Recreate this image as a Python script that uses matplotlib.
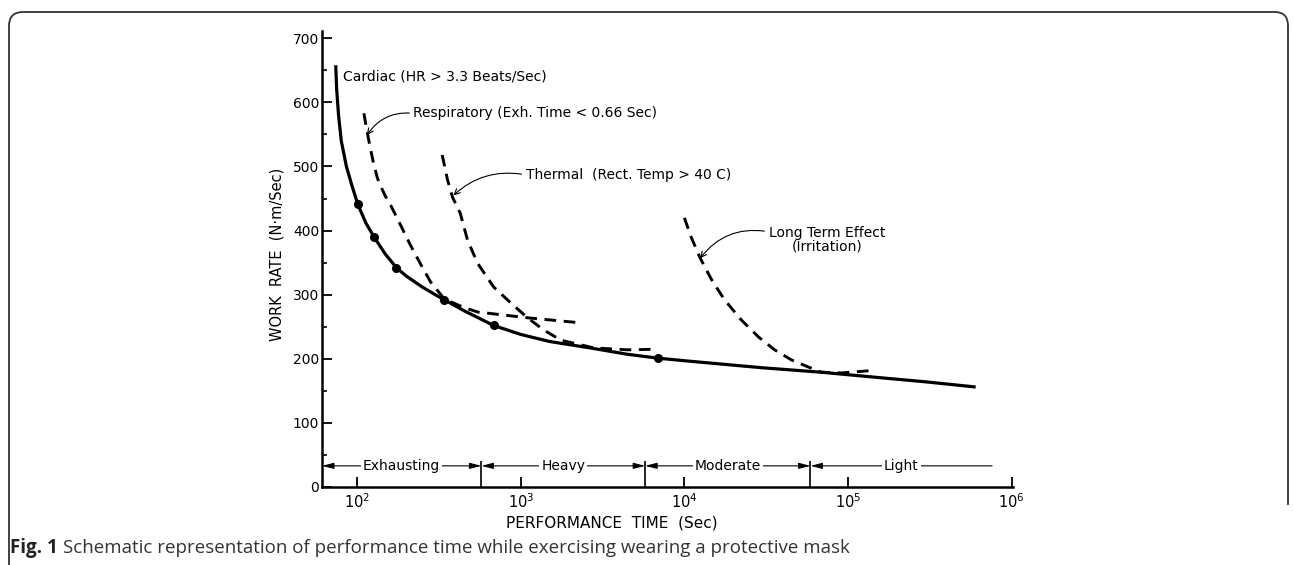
import matplotlib
matplotlib.use("Agg")
import matplotlib.pyplot as plt
from matplotlib.path import Path
from matplotlib.patches import PathPatch
from matplotlib.ticker import FixedLocator, MultipleLocator, NullLocator

# values (performance time in s, work rate in N·m/s)
cardiac_t = [74, 75, 77, 80, 86, 93, 101, 113, 127, 148, 174, 200, 250, 300, 342, 450,
             683, 1000, 1500, 2800, 4500, 6900, 10000, 30000, 69000, 150000, 300000, 603000]
cardiac_w = [658, 620, 580, 540, 500, 470, 441, 412, 390, 364, 342, 329, 312, 300, 292, 275,
             252, 238, 227, 216, 207, 201, 197, 186, 179, 171, 164, 156]
dot_t = [101, 127, 174, 342, 683, 6900]
dot_w = [441, 390, 342, 292, 252, 201]

resp_t = [110, 114, 119, 126, 133, 140, 150, 160, 184, 211, 244, 281, 342, 450, 545, 1100, 2340]
resp_w = [583, 560, 535, 505, 482, 468, 452, 440, 409, 378, 348, 320, 293, 280, 273, 264, 256]

therm_t = [331, 357, 383, 427, 473, 545, 683, 870, 1100, 1380, 1760, 2800, 4530, 6900]
therm_w = [518, 479, 452, 427, 385, 349, 312, 287, 264, 245, 229, 217, 214, 215]

long_t = [10000, 11000, 12500, 14700, 17600, 22400, 28400, 35600, 45300, 57500, 69000,
          91800, 145000]
long_w = [420, 390, 357, 323, 292, 260, 234, 214, 198, 187, 179, 178, 182]

zone_names = ["Exhausting", "Heavy", "Moderate", "Light"]
zone_edges = [61, 575, 5760, 59000, 760000]
zone_level = 33

x_ticks = [1e2, 1e3, 1e4, 1e5, 1e6]
x_tick_labels = ["$10^{2}$", "$10^{3}$", "$10^{4}$", "$10^{5}$", "$10^{6}$"]
y_ticks = [0, 100, 200, 300, 400, 500, 600, 700]

W, H = 1293, 565
fig = plt.figure(figsize=(W / 100, H / 100), dpi=100)
ax = fig.add_axes([322 / W, 1 - 487 / H, (1013 - 322) / W, (487 - 30.6) / H])

ax.plot(cardiac_t, cardiac_w, color="black", lw=2.3, solid_capstyle="butt")
ax.plot(dot_t, dot_w, "o", color="black", ms=5.5)
dash = (0, (4, 2.6))
for t, w in [(resp_t, resp_w), (therm_t, therm_w), (long_t, long_w)]:
    ax.plot(t, w, color="black", lw=2.1, linestyle=dash)

ax.set_xscale("log")
ax.set_xlim(61, 1.02e6)
ax.set_ylim(0, 712)

ax.xaxis.set_major_locator(FixedLocator(x_ticks))
ax.xaxis.set_minor_locator(NullLocator())
ax.set_xticklabels(x_tick_labels, fontsize=10.5)
ax.set_yticks(y_ticks)
ax.set_yticklabels([str(v) for v in y_ticks], fontsize=10)
ax.yaxis.set_minor_locator(MultipleLocator(50))
ax.tick_params(axis="both", which="major", direction="in", length=7, width=1.3, pad=2)
ax.tick_params(axis="y", which="minor", direction="in", length=3.5, width=1.2)
ax.tick_params(axis="x", pad=4)

for side in ["top", "right"]:
    ax.spines[side].set_visible(False)
for side in ["left", "bottom"]:
    ax.spines[side].set_linewidth(1.8)

ax.set_xlabel("PERFORMANCE  TIME  (Sec)", fontsize=11)
ax.xaxis.set_label_coords((612 - 322) / 691, -0.062)
ax.set_ylabel("WORK  RATE  (N·m/Sec)", fontsize=10.5)
ax.yaxis.set_label_coords(-0.054, 0.51)

# curve labels
ax.text(82, 640, "Cardiac (HR > 3.3 Beats/Sec)", fontsize=10, va="center", ha="left")
arrow = dict(arrowstyle="->", color="black", lw=0.8, shrinkA=1, shrinkB=0)
ax.annotate("Respiratory (Exh. Time < 0.66 Sec)", xy=(115, 549), xytext=(221, 583),
            fontsize=10, va="center", ha="left",
            arrowprops=dict(arrow, connectionstyle="arc3,rad=0.3", relpos=(0, 0.5)))
ax.annotate("Thermal  (Rect. Temp > 40 C)", xy=(388, 455), xytext=(1070, 487),
            fontsize=10, va="center", ha="left",
            arrowprops=dict(arrow, connectionstyle="arc3,rad=0.25", relpos=(0, 0.5)))
ax.annotate("Long Term Effect\n(Irritation)", xy=(12500, 357), xytext=(32700, 386),
            fontsize=10, va="center", ha="left", multialignment="center", linespacing=1.0,
            arrowprops=dict(arrow, connectionstyle="arc3,rad=0.3", relpos=(0, 0.78)))

# intensity zones along the bottom
ax.vlines(zone_edges[1:-1], 0, zone_level + 8, color="black", lw=1.2)
for i, name in enumerate(zone_names):
    left, right = zone_edges[i], zone_edges[i + 1]
    style = "<|-|>" if i < len(zone_names) - 1 else "-|>"
    ax.annotate("", xy=(left, zone_level), xytext=(right, zone_level),
                arrowprops=dict(arrowstyle=style + ",head_length=0.7,head_width=0.18",
                                color="black", lw=0.8, shrinkA=0, shrinkB=0))
    centre = (left * right) ** 0.5
    ax.text(centre, zone_level, name, fontsize=10, ha="center", va="center",
            bbox=dict(facecolor="white", edgecolor="none", pad=1.5))

# rounded frame around the figure
def fx(x):
    return x / W

def fy(y):
    return 1 - y / H

verts = [(fx(9), fy(570)), (fx(9), fy(26)), (fx(9), fy(12)), (fx(23), fy(12)),
         (fx(1275), fy(12)), (fx(1288), fy(12)), (fx(1288), fy(26)), (fx(1288), fy(505))]
codes = [Path.MOVETO, Path.LINETO, Path.CURVE3, Path.CURVE3,
         Path.LINETO, Path.CURVE3, Path.CURVE3, Path.LINETO]
fig.add_artist(PathPatch(Path(verts, codes), transform=fig.transFigure,
                         facecolor="none", edgecolor="#333333", lw=1.3))

# caption
fig_lbl = fig.text(fx(10), fy(548), "Fig. 1", fontsize=13.5, fontweight="bold",
                   family="Open Sans", color="#222222", va="center", ha="left")
fig.canvas.draw()
plt.annotate("Schematic representation of performance time while exercising wearing a protective mask",
             xy=(1, 0.5), xycoords=fig_lbl, xytext=(4, 0), textcoords="offset points",
             fontsize=13.5, family="Open Sans", color="#333333", va="center", ha="left")

plt.savefig("out.png", dpi=100)
plt.close()
